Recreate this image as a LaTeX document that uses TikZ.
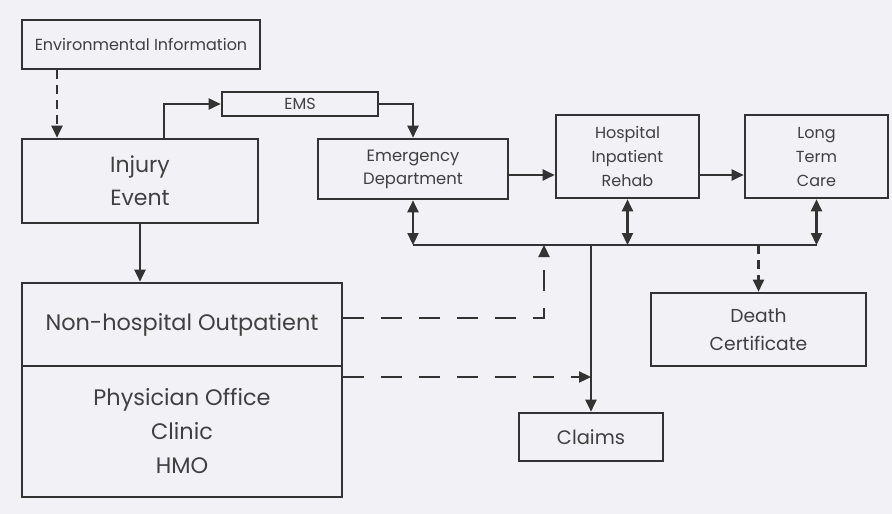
\documentclass[tikz,border=0pt]{standalone}
\usepackage{fontspec}
\setmainfont{Poppins}
\usetikzlibrary{arrows.meta}
\definecolor{bg}{HTML}{F1F1F6}
\definecolor{ink}{HTML}{333333}
\definecolor{txt}{HTML}{404040}
\begin{document}
\begin{tikzpicture}[x=1pt,y=-1pt,
  box/.style={draw=ink,line width=2.6pt,text=txt,align=center,inner sep=0pt,anchor=center},
  conn/.style={draw=ink,line width=2.3pt,-{Triangle[length=12pt,width=11pt]}},
  biconn/.style={draw=ink,line width=2.3pt,{Triangle[length=12pt,width=11pt]}-{Triangle[length=12pt,width=11pt]}},
  plain/.style={draw=ink,line width=2.3pt},
  longdash/.style={dash pattern=on 21pt off 17pt},
  shortdash/.style={dash pattern=on 9pt off 6pt}]
\fill[bg] (0,0) rectangle (892,514);
\useasboundingbox (0,0) rectangle (892,514);

\node[box,minimum width=238pt,minimum height=49pt,font=\fontsize{16}{18}\selectfont] (env) at (141,44.5) {Environmental Information};
\node[box,minimum width=236pt,minimum height=84pt,font=\fontsize{22}{33}\selectfont] (inj) at (140,181) {Injury\\Event};
\node[box,minimum width=156pt,minimum height=24pt,font=\fontsize{16}{18}\selectfont] (ems) at (300,104) {EMS};
\node[box,minimum width=190pt,minimum height=60pt,font=\fontsize{16.4}{23}\selectfont] (ed) at (413,169) {Emergency\\Department};
\node[box,minimum width=143pt,minimum height=83pt,font=\fontsize{16}{24}\selectfont] (hir) at (627.5,156.5) {Hospital\\Inpatient\\Rehab};
\node[box,minimum width=143pt,minimum height=83pt,font=\fontsize{16}{24}\selectfont] (ltc) at (816.5,156.5) {Long\\Term\\Care};
\node[box,minimum width=320pt,minimum height=83pt,font=\fontsize{22.4}{26}\selectfont] (nh) at (182,324.5) {Non-hospital Outpatient};
\node[box,minimum width=320pt,minimum height=131pt,font=\fontsize{22.4}{34}\selectfont] (phys) at (182,431.5) {Physician Office\\Clinic\\HMO};
\node[box,minimum width=215pt,minimum height=73pt,font=\fontsize{18.7}{28}\selectfont] (dc) at (758.5,329.5) {Death\\Certificate};
\node[box,minimum width=144pt,minimum height=48pt,font=\fontsize{19.5}{22}\selectfont] (claims) at (591,437) {Claims};

\coordinate (x57) at (57,0);
\coordinate (x164) at (164,0);
\coordinate (x544) at (544,0);
\coordinate (y175) at (0,175);
\coordinate (bus) at (0,245);
\coordinate (y318) at (0,318);
\coordinate (y377) at (0,377);

\draw[conn,shortdash] (env.south -| x57) -- (inj.north -| x57);
\draw[conn] (inj.north -| x164) |- (ems.west);
\draw[conn] (ems.east) -| (ed.north);
\draw[conn] (ed.east |- y175) -- (hir.west |- y175);
\draw[conn] (hir.east |- y175) -- (ltc.west |- y175);
\draw[biconn] (ed.south) -- (ed.south |- bus);
\draw[biconn] (hir.south) -- (hir.south |- bus);
\draw[biconn] (ltc.south) -- (ltc.south |- bus);
\draw[plain] (ed.south |- bus) -- (ltc.south |- bus);
\draw[conn] (claims.north |- bus) -- (claims.north);
\draw[conn,shortdash] (dc.north |- bus) -- (dc.north);
\draw[conn] (inj.south) -- (inj.south |- nh.north);
\draw[conn,longdash] (nh.east |- y318) -| (x544 |- bus);
\draw[conn,longdash] (phys.east |- y377) -- (claims.north |- y377);
\end{tikzpicture}
\end{document}
